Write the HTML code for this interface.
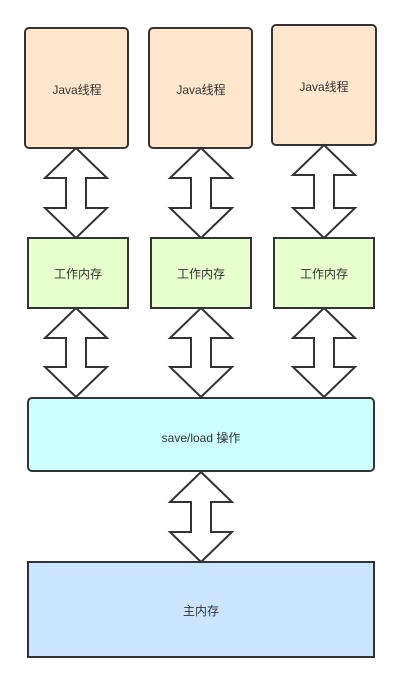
<!DOCTYPE html>
<html><head><meta charset="utf-8"><style>
html,body{margin:0;padding:0;background:#fff;}
svg{display:block}
text{font-family:"Liberation Sans","Noto Sans CJK SC",sans-serif;font-size:12px;fill:#333;text-anchor:middle;dominant-baseline:central}
</style></head><body>
<svg width="400" height="682" viewBox="0 0 400 682" xmlns="http://www.w3.org/2000/svg">
<g stroke="#333" stroke-width="2">
<rect x="25" y="28" width="103" height="120" rx="4" fill="#ffe6cc"/>
<rect x="149" y="28" width="103" height="120" rx="4" fill="#ffe6cc"/>
<rect x="272" y="25" width="104" height="120" rx="4" fill="#ffe6cc"/>
<rect x="28" y="238" width="100" height="70" fill="#e6ffcc"/>
<rect x="151" y="238" width="100" height="70" fill="#e6ffcc"/>
<rect x="274" y="238" width="100" height="70" fill="#e6ffcc"/>
<rect x="28" y="398" width="346" height="73" rx="4" fill="#ccffff"/>
<rect x="28" y="562" width="346" height="95" fill="#cce5ff"/>
<g fill="#fff">
<polygon points="76,148 107,178 86,178 86,208 107,208 76,238 45,208 66,208 66,178 45,178"/>
<polygon points="201,148 232,178 211,178 211,208 232,208 201,238 170,208 191,208 191,178 170,178"/>
<polygon points="324,145 355,175 334,175 334,208 355,208 324,238 293,208 314,208 314,175 293,175"/>
<polygon points="76,308 107,338 86,338 86,367 107,367 76,397 45,367 66,367 66,338 45,338"/>
<polygon points="201,308 232,338 211,338 211,367 232,367 201,397 170,367 191,367 191,338 170,338"/>
<polygon points="324,308 355,338 334,338 334,367 355,367 324,397 293,367 314,367 314,338 293,338"/>
<polygon points="201,472 232,502 211,502 211,532 232,532 201,562 170,532 191,532 191,502 170,502"/>
</g>
</g>
<text x="77" y="90">Java线程</text>
<text x="201" y="90">Java线程</text>
<text x="324" y="87">Java线程</text>
<text x="78" y="274">工作内存</text>
<text x="201" y="274">工作内存</text>
<text x="324" y="274">工作内存</text>
<text x="201" y="438">save/load 操作</text>
<text x="201" y="611">主内存</text>
</svg>
</body></html>
